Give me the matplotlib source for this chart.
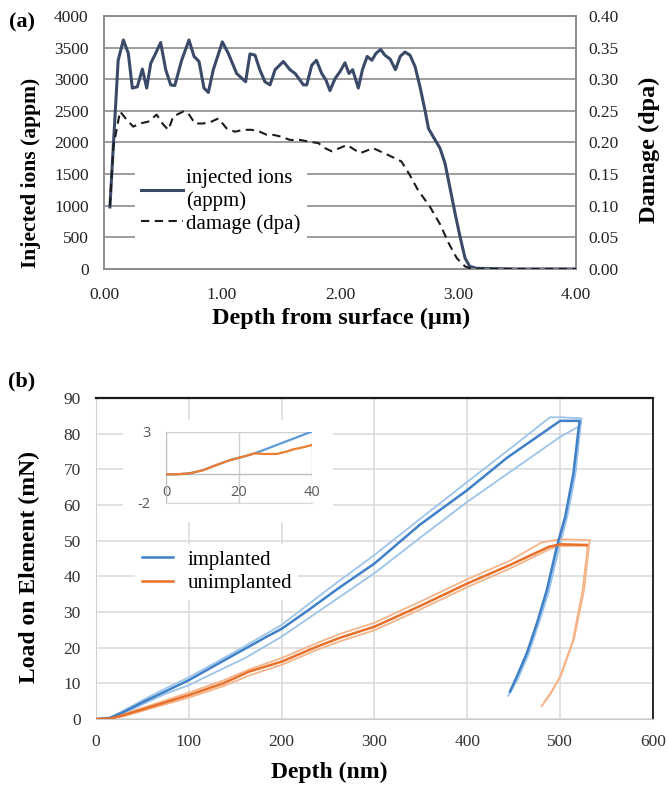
import matplotlib
matplotlib.use("Agg")
import matplotlib.pyplot as plt
import numpy as np
from matplotlib.patches import Rectangle
from matplotlib.ticker import FormatStrFormatter

plt.rcParams["font.family"] = ["Liberation Serif", "DejaVu Serif"]
plt.rcParams["axes.unicode_minus"] = False

# ---- (a) implantation profile ----
ion_depth = [0.05, 0.12, 0.164, 0.206, 0.24, 0.282, 0.325, 0.362, 0.396, 0.438,
             0.48, 0.523, 0.565, 0.60, 0.658, 0.72, 0.763, 0.805, 0.847, 0.884,
             0.926, 1.003, 1.053, 1.124, 1.20, 1.237, 1.28, 1.32, 1.364, 1.407,
             1.45, 1.52, 1.576, 1.62, 1.69, 1.718, 1.76, 1.80, 1.845, 1.88,
             1.915, 1.958, 2.0, 2.042, 2.076, 2.107, 2.155, 2.19, 2.23, 2.27,
             2.305, 2.345, 2.38, 2.424, 2.47, 2.51, 2.55, 2.593, 2.636, 2.678,
             2.72, 2.75, 2.79, 2.847, 2.89, 2.93, 2.975, 3.017, 3.06, 3.1,
             3.16, 3.5, 4.0]
ion_appm = [980, 3300, 3620, 3410, 2860, 2880, 3160, 2860, 3250, 3410,
            3580, 3150, 2910, 2900, 3300, 3620, 3360, 3280, 2860, 2790,
            3150, 3590, 3410, 3090, 2960, 3400, 3380, 3150, 2960, 2910,
            3150, 3280, 3150, 3090, 2910, 2910, 3220, 3300, 3090, 2990,
            2820, 3010, 3120, 3260, 3090, 3150, 2860, 3150, 3360, 3300,
            3410, 3470, 3380, 3320, 3150, 3360, 3430, 3380, 3200, 2880,
            2510, 2220, 2090, 1910, 1670, 1300, 880, 510, 170, 40,
            10, 0, 0]

dmg_depth = [0.05, 0.079, 0.136, 0.192, 0.248, 0.305, 0.376, 0.446, 0.503, 0.545,
             0.587, 0.672, 0.714, 0.771, 0.842, 0.912, 0.969, 1.04, 1.11, 1.18,
             1.25, 1.32, 1.38, 1.435, 1.506, 1.576, 1.66, 1.746, 1.816, 1.873,
             1.93, 2.06, 2.17, 2.28, 2.41, 2.52, 2.59, 2.66, 2.76, 2.85,
             2.92, 2.99, 3.06, 3.12, 4.0]
dmg_dpa = [0.10, 0.193, 0.249, 0.236, 0.225, 0.230, 0.233, 0.244, 0.228, 0.220,
           0.241, 0.249, 0.246, 0.230, 0.230, 0.233, 0.238, 0.222, 0.217, 0.220,
           0.220, 0.217, 0.212, 0.212, 0.209, 0.204, 0.204, 0.201, 0.199, 0.191,
           0.186, 0.196, 0.183, 0.191, 0.180, 0.170, 0.149, 0.125, 0.099, 0.070,
           0.041, 0.017, 0.004, 0.0, 0.0]

a_xticks = [0, 1, 2, 3, 4]
a_yticks = [0, 500, 1000, 1500, 2000, 2500, 3000, 3500, 4000]
a_y2ticks = [0, 0.05, 0.10, 0.15, 0.20, 0.25, 0.30, 0.35, 0.40]

# ---- (b) load-depth curves (three tests each) ----
impl_depth = [0, 15, 30, 51, 76, 100, 126, 155, 184, 200, 227, 263, 300, 349,
              400, 443, 500, 521, 519.7, 514.3, 505.4, 496.4, 485.7, 474.9,
              464, 453.3, 446]
impl_load = [0, 0.3, 2.0, 4.8, 7.9, 10.9, 14.7, 18.9, 23.1, 25.3, 30.2, 37.0,
             43.6, 54.5, 64.2, 73.3, 83.6, 83.6, 81, 68.9, 56.7, 48.3, 36.2,
             26.8, 18.4, 11.9, 7.7]
impl_hi_depth = [0, 15, 30, 51, 76, 100, 130, 160, 200, 250, 300, 350, 400, 450,
                 489, 500, 523, 521, 516, 507, 498, 487, 476, 465, 454, 444]
impl_hi_load = [0, 0.4, 2.4, 5.4, 8.7, 11.7, 16.0, 20.4, 26.4, 36.4, 46.0, 56.3,
                66.5, 76.6, 84.6, 84.6, 84.3, 80, 68, 56, 47, 35, 26, 17.5, 11, 6.5]
impl_lo_depth = [0, 15, 30, 51, 76, 100, 130, 160, 200, 250, 300, 350, 400, 450,
                 500, 520, 522, 517, 508, 499, 488, 477, 466, 455, 447]
impl_lo_load = [0, 0.2, 1.6, 4.2, 7.2, 9.5, 13.3, 17.0, 23.1, 32.0, 40.9, 51.0,
                60.9, 70.0, 79.1, 82.0, 83.5, 70, 57.5, 49, 37, 27.5, 19, 12.5, 8]

unimpl_depth = [0, 15, 30, 65, 100, 137, 165, 200, 238, 263, 300, 350, 400, 446,
                488, 500, 529]
unimpl_load = [0, 0.1, 1.1, 3.9, 6.7, 10.0, 13.3, 16.1, 20.3, 22.8, 25.9, 31.8,
               38.0, 43.2, 48.3, 49.0, 48.8]
unimpl_hi_depth = [0, 15, 30, 65, 100, 137, 165, 200, 238, 263, 300, 350, 400,
                   446, 480, 500, 532, 531, 526, 515, 501, 490, 480]
unimpl_hi_load = [0, 0.2, 1.4, 4.4, 7.4, 10.8, 13.9, 17.1, 21.3, 23.9, 27.0,
                  33.0, 39.2, 44.4, 49.5, 50.4, 50.2, 48.5, 36.5, 22.5, 12.3,
                  7.2, 3.6]
unimpl_lo_depth = [0, 15, 30, 65, 100, 137, 165, 200, 238, 263, 300, 350, 400,
                   446, 490, 500, 528, 529.5, 524, 513.5, 499.5, 489, 483]
unimpl_lo_load = [0, 0.1, 0.8, 3.4, 6.0, 9.2, 12.2, 15.2, 19.4, 21.8, 24.9,
                  30.8, 37.0, 42.2, 47.8, 48.5, 48.6, 47.8, 35.8, 21.8, 11.6,
                  7.0, 4.8]

inset_depth = [0, 3, 6.6, 10.3, 13.9, 17.6, 21.2, 24.4, 26.7, 30.4, 33.1, 35,
               37.7, 40]
inset_impl = [0, 0, 0.07, 0.3, 0.66, 1.0, 1.24, 1.48, 1.70, 2.06, 2.33, 2.51,
              2.78, 3.0]
inset_unimpl = [0, 0, 0.07, 0.3, 0.66, 1.0, 1.24, 1.48, 1.43, 1.43, 1.6, 1.76,
                1.9, 2.06]

BLUE = "#3f80c8"
BLUE_LT = "#9cc4ea"
ORANGE = "#e8702a"
ORANGE_LT = "#f5b48a"

fig = plt.figure(figsize=(6.68, 7.86), dpi=100)

# ================= (a) =================
ax = fig.add_axes([0.1557, 0.6578, 0.7066, 0.3219])
ax2 = ax.twinx()
l_ion, = ax.plot(ion_depth, ion_appm, color="#3b4a68", lw=2.2,
                 solid_joinstyle="round", zorder=3)
l_dmg, = ax2.plot(dmg_depth, dmg_dpa, color="#1c1c1c", lw=1.5,
                  ls=(0, (4, 2.6)), zorder=3)
ax.set_xlim(0, 4)
ax.set_ylim(0, 4000)
ax2.set_ylim(0, 0.4)
ax.set_xticks(a_xticks)
ax.xaxis.set_major_formatter(FormatStrFormatter("%.2f"))
ax.set_yticks(a_yticks)
ax2.set_yticks(a_y2ticks)
ax2.yaxis.set_major_formatter(FormatStrFormatter("%.2f"))
ax.yaxis.grid(True, color="#8c8c8c", lw=1.2)
ax.set_axisbelow(True)
for a in (ax, ax2):
    for sp in a.spines.values():
        sp.set_color("#8c8c8c")
        sp.set_linewidth(1.2)
ax.tick_params(axis="y", length=0, labelsize=12.5, pad=11, colors="#222222")
ax.tick_params(axis="x", length=0, labelsize=12.5, pad=13, colors="#222222")
ax2.tick_params(axis="y", length=0, labelsize=12.5, pad=9, colors="#222222")

ax.set_xlabel("Depth from surface (µm)", fontsize=17.5, fontweight="bold")
ax.xaxis.set_label_coords(0.502, -0.152)
ax.set_ylabel("Injected ions (appm)", fontsize=15.5, fontweight="bold")
ax.yaxis.set_label_coords(-0.134, 0.38)
ax2.set_ylabel("Damage (dpa)", fontsize=17.5, fontweight="bold", rotation=90)
ax2.yaxis.set_label_coords(1.133, 0.47)

ax2.legend([l_ion, l_dmg], ["injected ions\n(appm)", "damage (dpa)"],
           loc="upper left", bbox_to_anchor=(0.044, 0.46), fontsize=15,
           frameon=True, facecolor="white", edgecolor="none", framealpha=1,
           fancybox=False, handlelength=2.0, handletextpad=0.15,
           labelspacing=0.15, borderpad=0.3)

fig.text(0.033, 0.972, "(a)", fontsize=16, fontweight="bold",
         ha="center", va="center")

# ================= (b) =================
bx = fig.add_axes([0.1437, 0.0852, 0.8338, 0.4084])
bx.plot(impl_hi_depth, impl_hi_load, color=BLUE_LT, lw=1.3, zorder=2)
bx.plot(impl_lo_depth, impl_lo_load, color=BLUE_LT, lw=1.3, zorder=2)
l_impl, = bx.plot(impl_depth, impl_load, color=BLUE, lw=1.8, zorder=3)
bx.plot(unimpl_hi_depth, unimpl_hi_load, color=ORANGE_LT, lw=1.3, zorder=2)
bx.plot(unimpl_lo_depth, unimpl_lo_load, color=ORANGE_LT, lw=1.3, zorder=2)
l_unimpl, = bx.plot(unimpl_depth, unimpl_load, color=ORANGE, lw=1.8, zorder=3)

bx.set_xlim(0, 600)
bx.set_ylim(0, 90)
bx.set_xticks(range(0, 601, 100))
bx.set_yticks(range(0, 91, 10))
bx.grid(True, color="#d9d9d9", lw=1.1)
bx.set_axisbelow(True)
bx.spines["top"].set_color("#1a1a1a")
bx.spines["top"].set_linewidth(1.6)
bx.spines["right"].set_color("#1a1a1a")
bx.spines["right"].set_linewidth(1.3)
bx.spines["left"].set_color("#d0d0d0")
bx.spines["bottom"].set_color("#c8c8c8")
bx.tick_params(axis="y", length=0, labelsize=12.5, pad=11, colors="#333333")
bx.tick_params(axis="x", length=0, labelsize=12.5, pad=11, colors="#333333")
bx.set_xlabel("Depth (nm)", fontsize=17, fontweight="bold")
bx.xaxis.set_label_coords(0.418, -0.132)
bx.set_ylabel("Load on Element (mN)", fontsize=17, fontweight="bold")
bx.yaxis.set_label_coords(-0.100, 0.473)

bx.legend([l_impl, l_unimpl], ["implanted", "unimplanted"],
          loc="upper left", bbox_to_anchor=(0.052, 0.578), fontsize=15,
          frameon=True, facecolor="white", edgecolor="none", framealpha=1,
          fancybox=False, handlelength=1.5, handletextpad=0.7,
          labelspacing=0.2, borderpad=0.3)

fig.text(0.033, 0.515, "(b)", fontsize=16, fontweight="bold",
         ha="center", va="center")

# white backing behind the inset (hides the main gridlines there)
fig.add_artist(Rectangle((0.184, 0.3359), 0.3145, 0.1297,
                         transform=fig.transFigure, facecolor="white",
                         edgecolor="none", zorder=1))

ix = fig.add_axes([0.2485, 0.3604, 0.2181, 0.0904])
ix.set_zorder(3)
ix.plot(inset_depth, inset_impl, color="#5b9bd5", lw=1.6, zorder=3)
ix.plot(inset_depth, inset_unimpl, color="#ed7d31", lw=1.6, zorder=4)
ix.set_xlim(0, 40)
ix.set_ylim(-2, 3)
ix.set_xticks([0, 20, 40])
ix.set_yticks([-2, 3])
ix.grid(True, color="#d0d0d0", lw=1.0)
ix.axhline(0, color="#bfbfbf", lw=1.0, zorder=1)
ix.set_axisbelow(True)
for side in ("top", "right"):
    ix.spines[side].set_visible(False)
ix.spines["left"].set_color("#bfbfbf")
ix.spines["bottom"].set_color("#d9d9d9")
ix.tick_params(axis="x", length=0, pad=-12.5, labelsize=10.5,
               colors="#595959")
ix.tick_params(axis="y", length=0, pad=11, labelsize=10.5, colors="#595959")
for lab in ix.get_xticklabels() + ix.get_yticklabels():
    lab.set_family(["Open Sans", "DejaVu Sans"])

fig.savefig("out.png", dpi=100)
